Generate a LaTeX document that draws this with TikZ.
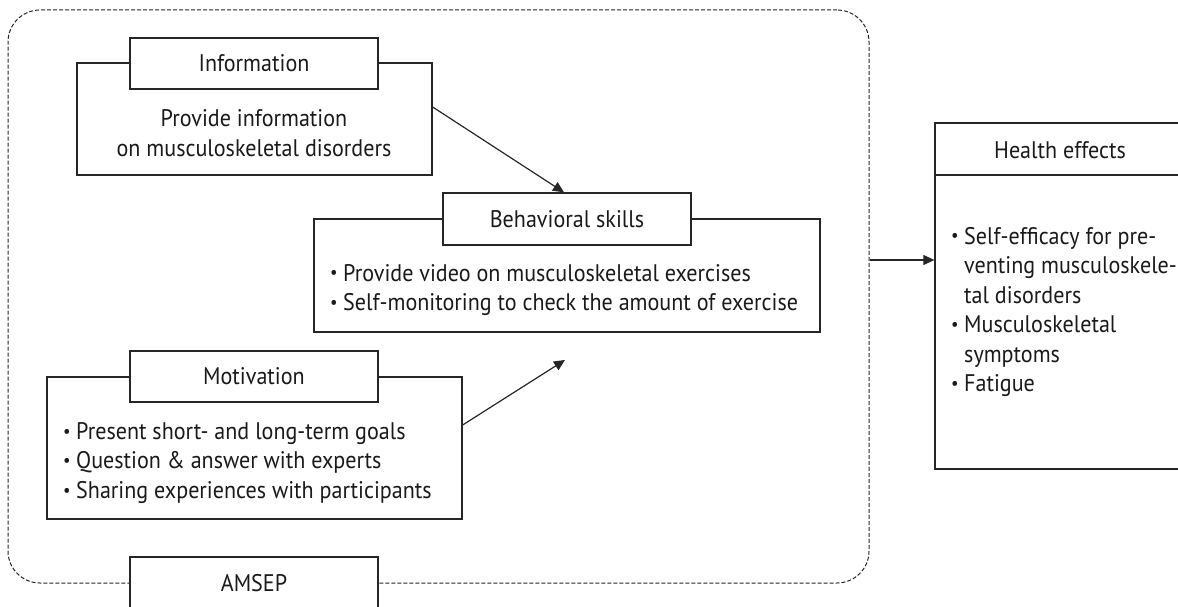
\documentclass[tikz,border=0pt]{standalone}
\usepackage{fontspec}
\usepackage{graphicx}
\setmainfont{PT Sans}[FakeStretch=0.92]
\usetikzlibrary{arrows.meta}
\definecolor{ln}{HTML}{262626}
\definecolor{tx}{HTML}{1A1A1A}
\newcommand{\bul}{\makebox[13pt][l]{\raisebox{0.2ex}{\scalebox{0.75}{•}}}}
\newcommand{\ind}{\hspace*{13pt}}
\begin{document}
\begin{tikzpicture}[x=1pt,y=-1pt,
  box/.style={draw=ln,line width=1.3pt,fill=white,inner sep=0pt},
  lbl/.style={text=tx,font=\fontsize{24}{29.5}\selectfont,inner sep=0pt},
  arr/.style={draw=ln,line width=1.2pt,-{Triangle[length=11pt,width=10pt]}}]
\useasboundingbox (0,0) rectangle (1178,607);
% outer dashed frame
\node[draw=ln,line width=1pt,dash pattern=on 4pt off 2pt,rounded corners=32pt,
      minimum width=861pt,minimum height=573pt,inner sep=0pt] (outer) at (438.5,296.5) {};
% Information
\node[box,minimum width=355pt,minimum height=112pt] (infobox) at (254.5,119) {};
\node[box,minimum width=248pt,minimum height=51pt] (infohead) at (254,63.5) {};
\node[lbl] (infohdtxt) at (254,63.5) {Information};
\node[lbl,align=center] (infotxt) at (254,133) {Provide information\\on musculoskeletal disorders};
% Behavioral skills
\node[box,minimum width=506pt,minimum height=113pt] (bhvbox) at (567,275.5) {};
\node[box,minimum width=248pt,minimum height=52pt] (bhvhead) at (567,219) {};
\node[lbl] (bhvhdtxt) at (567,219) {Behavioral skills};
\node[lbl,align=left,anchor=west] (bhvtxt) at (330,290) {\bul Provide video on musculoskeletal exercises\\\bul Self-monitoring to check the amount of exercise};
% Motivation
\node[box,minimum width=415pt,minimum height=142pt] (motbox) at (254.5,448) {};
\node[box,minimum width=248pt,minimum height=51pt] (mothead) at (254,376.5) {};
\node[lbl] (mothdtxt) at (254,376.5) {Motivation};
\node[lbl,align=left,anchor=west] (mottxt) at (63,463) {\bul Present short- and long-term goals\\\bul Question \& answer with experts\\\bul Sharing experiences with participants};
% AMSEP
\node[box,minimum width=248pt,minimum height=52pt] (amsep) at (254,583) {};
\node[lbl] (amseptxt) at (254,583) {AMSEP};
% Health effects
\node[box,minimum width=250pt,minimum height=346pt] (health) at (1060,296) {};
\node[box,minimum width=250pt,minimum height=52pt] (healthhead) at (1060,149) {};
\node[lbl] (healthhdtxt) at (1060,150) {Health effects};
\node[lbl,align=left,anchor=west] (healthtxt) at (951,312) {\bul Self-efficacy for pre-\\\ind venting musculoskele-\\\ind tal disorders\\\bul Musculoskeletal\\\ind symptoms\\\bul Fatigue};
% connectors
\coordinate (mtip) at (565,360);
\coordinate (hy) at (900,260);
\draw[arr] ([yshift=12pt]infobox.east) -- ([xshift=-3pt]bhvhead.north);
\draw[arr] ([yshift=23pt]motbox.east) -- (mtip);
\draw[arr] (outer.east |- hy) -- (health.west |- hy);
\end{tikzpicture}
\end{document}
